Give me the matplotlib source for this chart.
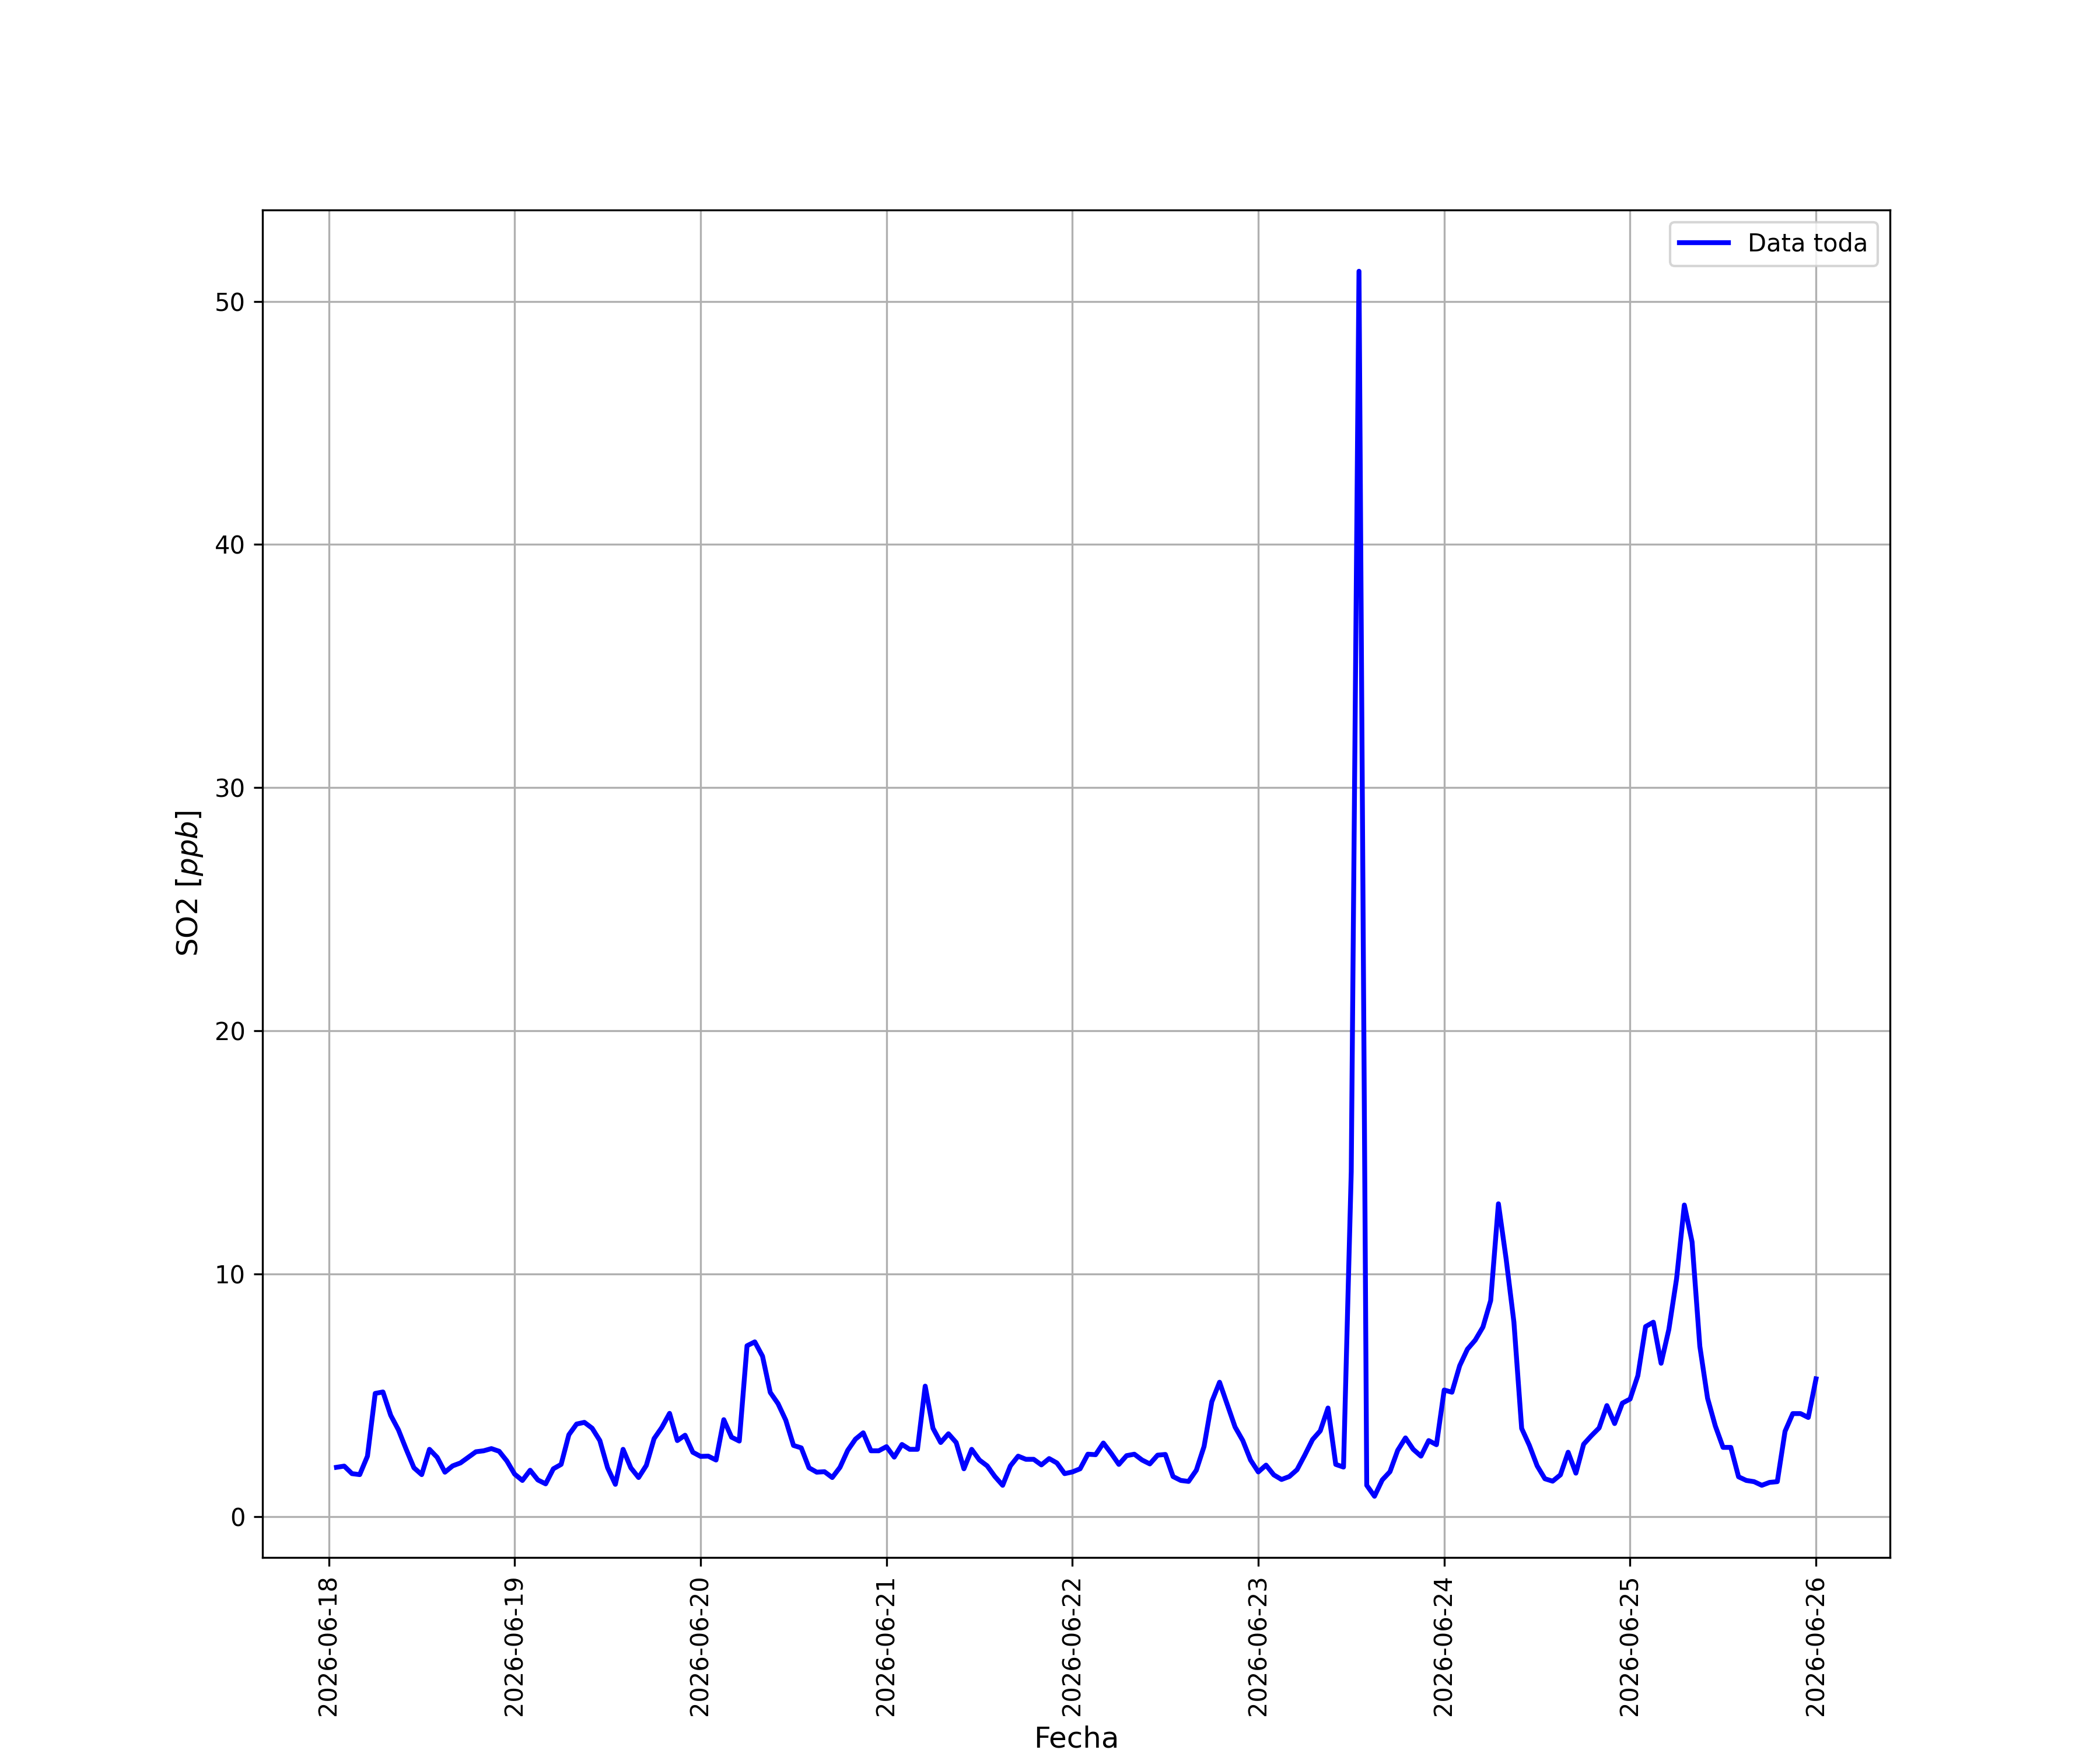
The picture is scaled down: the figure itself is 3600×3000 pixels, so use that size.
import numpy as np
import pandas as pd
import matplotlib
matplotlib.use("Agg")
import matplotlib.pyplot as plt
import matplotlib.dates as mdates

start_time = "2026-06-18 01:00"
freq = "h"

day1 = [2.04, 2.09, 1.78, 1.74, 2.5, 5.08, 5.14, 4.18, 3.58, 2.78, 2.02, 1.74,
        2.78, 2.45, 1.84, 2.1, 2.22, 2.45, 2.68, 2.72, 2.81, 2.7, 2.3, 1.76]
day2 = [1.5, 1.92, 1.52, 1.36, 1.98, 2.16, 3.38, 3.82, 3.89, 3.65, 3.14, 2.02,
        1.34, 2.78, 2.02, 1.62, 2.12, 3.22, 3.68, 4.26, 3.14, 3.36, 2.66, 2.49]
day3 = [2.5, 2.34, 4.0, 3.28, 3.12, 7.04, 7.2, 6.61, 5.12, 4.66, 3.98, 2.94,
        2.84, 2.02, 1.84, 1.86, 1.62, 2.04, 2.74, 3.2, 3.46, 2.72, 2.72, 2.89]
day4 = [2.46, 2.98, 2.78, 2.78, 5.38, 3.65, 3.06, 3.42, 3.06, 1.98, 2.78, 2.34,
        2.1, 1.66, 1.30, 2.1, 2.5, 2.37, 2.37, 2.14, 2.4, 2.22, 1.78, 1.85]
day5 = [1.98, 2.58, 2.56, 3.04, 2.62, 2.16, 2.52, 2.58, 2.34, 2.18, 2.54, 2.57,
        1.66, 1.5, 1.46, 1.92, 2.9, 4.74, 5.54, 4.62, 3.7, 3.14, 2.34, 1.85]
day6 = [2.13, 1.73, 1.54, 1.66, 1.94, 2.54, 3.18, 3.54, 4.48, 2.16, 2.05, 14.2,
        51.24, 1.30, 0.85, 1.52, 1.86, 2.74, 3.25, 2.78, 2.5, 3.14, 2.97, 5.22]
day7 = [5.13, 6.22, 6.9, 7.27, 7.81, 8.9, 12.88, 10.6, 8.01, 3.64, 2.94, 2.1,
        1.57, 1.47, 1.73, 2.66, 1.8, 2.99, 3.34, 3.66, 4.58, 3.84, 4.68, 4.85]
day8 = [5.81, 7.83, 8.01, 6.32, 7.71, 9.8, 12.83, 11.31, 7.02, 4.88, 3.74, 2.86,
        2.86, 1.65, 1.5, 1.45, 1.3, 1.42, 1.45, 3.52, 4.25, 4.25, 4.09, 5.68]

so2 = day1 + day2 + day3 + day4 + day5 + day6 + day7 + day8
fechas = pd.date_range(start_time, periods=len(so2), freq=freq)

fig, ax = plt.subplots(figsize=(12, 10), dpi=300)
ax.plot(fechas, so2, color="blue", linewidth=2, label="Data toda")
ax.xaxis.set_major_locator(mdates.DayLocator())
ax.xaxis.set_major_formatter(mdates.DateFormatter("%Y-%m-%d"))
plt.setp(ax.get_xticklabels(), rotation=90)
ax.set_xlabel("Fecha", fontsize=12)
ax.set_ylabel("SO2 [$ppb$]", fontsize=12)
ax.grid(True)
ax.legend(loc="upper right")
fig.savefig("out.png", dpi=300)
